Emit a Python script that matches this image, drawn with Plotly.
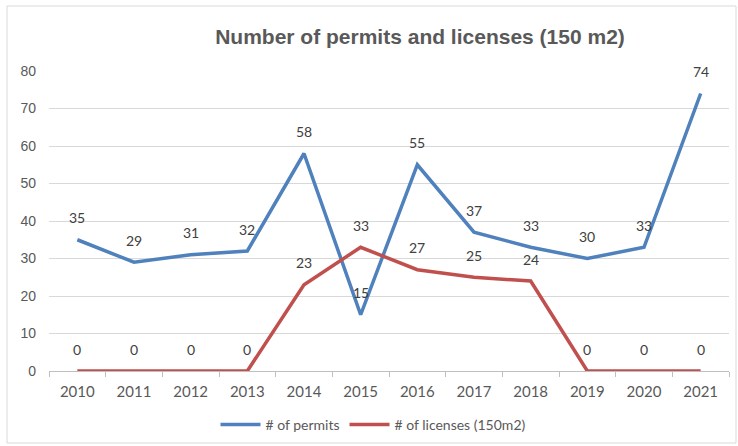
import plotly.graph_objects as go

years = ["2010", "2011", "2012", "2013", "2014", "2015", "2016", "2017", "2018", "2019", "2020", "2021"]
permits = [35, 29, 31, 32, 58, 15, 55, 37, 33, 30, 33, 74]
licenses = [0, 0, 0, 0, 23, 33, 27, 25, 24, 0, 0, 0]
series_names = ["# of permits", "# of licenses (150m2)"]
title_text = "Number of permits and licenses (150 m2)"
y_ticks = [0, 10, 20, 30, 40, 50, 60, 70, 80]

BLUE = "#4F81BD"
RED = "#C0504D"
TXT = "#595959"

fig = go.Figure()
fig.add_trace(go.Scatter(x=years, y=permits, mode="lines", name=series_names[0],
                         line=dict(color=BLUE, width=3.5)))
fig.add_trace(go.Scatter(x=years, y=licenses, mode="lines", name=series_names[1],
                         line=dict(color=RED, width=3.5)))

for ser in (permits, licenses):
    for i, yv in enumerate(ser):
        fig.add_annotation(x=i, y=yv, xref="x", yref="y", text=str(yv), showarrow=False, yshift=22,
                           font=dict(family="Lato", size=14, color="#404040"))

W, H = 738, 446
L, R, T, B = 49, 9, 71, 75
pw, ph = W - L - R, H - T - B
fig.add_shape(type="rect", xref="paper", yref="paper",
              x0=(7 - L) / pw, x1=(736 - L) / pw,
              y0=(H - B - 443) / ph, y1=(H - B - 6) / ph,
              line=dict(color="#D9D9D9", width=1), fillcolor="rgba(0,0,0,0)", layer="below")

fig.update_layout(
    width=W, height=H,
    margin=dict(l=L, r=R, t=T, b=B, autoexpand=False),
    paper_bgcolor="white", plot_bgcolor="white",
    title=dict(text=title_text, x=420 / W, xanchor="center", y=1 - 37 / H, yanchor="middle",
               font=dict(family="Liberation Sans", size=21, color=TXT, weight="bold")),
    showlegend=True,
    legend=dict(orientation="h", x=(373 - L) / pw, xanchor="center",
                yref="container", y=(H - 425) / H, yanchor="middle",
                font=dict(family="Lato", size=14, color=TXT), itemwidth=40, bgcolor="rgba(0,0,0,0)"),
    xaxis=dict(type="category", range=[-0.5, 11.5], showgrid=False,
               showline=True, linecolor="#BFBFBF", linewidth=1,
               ticks="outside", tickson="boundaries", ticklen=5, tickcolor="#BFBFBF",
               ticklabelstandoff=7,
               tickfont=dict(family="Lato", size=15, color=TXT)),
    yaxis=dict(range=[0, 80], tickvals=y_ticks, showgrid=True, gridcolor="#D9D9D9", gridwidth=1,
               zeroline=False, showline=False, ticks="", ticklabelstandoff=12,
               tickfont=dict(family="Liberation Sans", size=14, color=TXT)),
)

fig.write_html("out.html")
